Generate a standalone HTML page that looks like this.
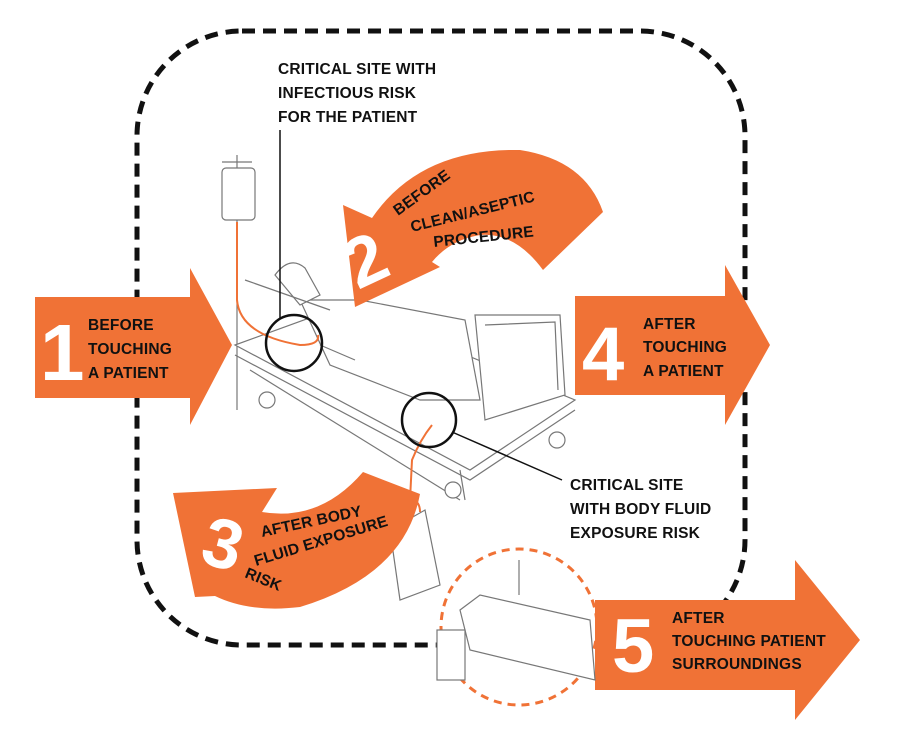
<!DOCTYPE html>
<html><head><meta charset="utf-8"><style>
html,body{margin:0;padding:0;background:#fff;}
svg{display:block;font-family:"Liberation Sans",Arial,sans-serif;}
.t{font-weight:bold;font-size:15.5px;fill:#111;letter-spacing:0.2px;}
.n{font-weight:bold;fill:#fff;}
.g{fill:none;stroke:#777;stroke-width:1.2;}
</style></head><body>
<svg width="904" height="752" viewBox="0 0 904 752" xmlns="http://www.w3.org/2000/svg">
<rect x="137" y="31" width="608" height="614" rx="105" fill="none" stroke="#111" stroke-width="5" stroke-dasharray="13 8"/>

<g class="g">
  <line x1="237" y1="155" x2="237" y2="410"/>
  <line x1="222" y1="162" x2="252" y2="162"/>
  <rect x="222" y="168" width="33" height="52" rx="4" fill="#fff"/>
  <path d="M235 345 L470 470 L575 400 L345 305 Z" fill="#fff"/>
  <path d="M235 355 L470 480 L575 410" />
  <path d="M250 370 L460 500"/>
  <path d="M460 470 L465 500"/>
  <path d="M475 315 L560 315 L565 395 L485 420 Z" fill="#fff"/>
  <path d="M485 325 L555 322 L558 390"/>
  <path d="M300 300 L360 300 L465 320 L480 400 L420 400 L330 365 Z" fill="#fff"/>
  <path d="M275 275 Q290 255 305 268 L320 295 L300 305 Z" fill="#fff"/>
  <path d="M245 280 L330 310"/>
  <path d="M320 345 L355 360"/>
  <circle cx="267" cy="400" r="8" fill="#fff"/>
  <circle cx="453" cy="490" r="8" fill="#fff"/>
  <circle cx="557" cy="440" r="8" fill="#fff"/>
  <path d="M390 530 L425 510 L440 585 L400 600 Z" fill="#fff"/>
</g>
<path d="M237 222 L237 300 Q240 335 300 345 Q320 345 318 335" fill="none" stroke="#f07236" stroke-width="2"/>
<path d="M432 425 Q420 440 412 460 L410 500 Q420 500 420 512" fill="none" stroke="#f07236" stroke-width="2"/>
<circle cx="294" cy="343" r="28" fill="none" stroke="#111" stroke-width="2.5"/>
<circle cx="429" cy="420" r="27" fill="none" stroke="#111" stroke-width="2.5"/>
<line x1="280" y1="130" x2="280" y2="318" stroke="#111" stroke-width="1.5"/>
<line x1="452" y1="432" x2="562" y2="480" stroke="#111" stroke-width="1.5"/>

<text class="t" x="278" y="74">CRITICAL SITE WITH</text>
<text class="t" x="278" y="98">INFECTIOUS RISK</text>
<text class="t" x="278" y="122">FOR THE PATIENT</text>
<text class="t" x="570" y="490">CRITICAL SITE</text>
<text class="t" x="570" y="514">WITH BODY FLUID</text>
<text class="t" x="570" y="538">EXPOSURE RISK</text>

<path d="M35 297 L190 297 L190 268 L232 345 L190 425 L190 398 L35 398 Z" fill="#f07236"/>
<text class="n" x="40" y="380" font-size="80">1</text>
<text class="t" x="88" y="330">BEFORE</text>
<text class="t" x="88" y="354">TOUCHING</text>
<text class="t" x="88" y="378">A PATIENT</text>

<path d="M575 296 L725 296 L725 265 L770 345 L725 425 L725 395 L575 395 Z" fill="#f07236"/>
<text class="n" x="582" y="380" font-size="76">4</text>
<text class="t" x="643" y="329">AFTER</text>
<text class="t" x="643" y="352">TOUCHING</text>
<text class="t" x="643" y="376">A PATIENT</text>

<circle cx="519" cy="627" r="78" fill="#fff" stroke="#f07236" stroke-width="3" stroke-dasharray="8 6"/>
<path d="M595 600 L795 600 L795 560 L860 640 L795 720 L795 690 L595 690 Z" fill="#f07236"/>
<g class="g">
  <path d="M460 610 L480 595 L590 620 L595 680 L470 650 Z" fill="#fff"/>
  <rect x="437" y="630" width="28" height="50" fill="#fff"/>
  <line x1="519" y1="560" x2="519" y2="595"/>
</g>
<text class="n" x="612" y="672" font-size="76">5</text>
<text class="t" x="672" y="623">AFTER</text>
<text class="t" x="672" y="646">TOUCHING PATIENT</text>
<text class="t" x="672" y="669">SURROUNDINGS</text>

<path d="M343 205 L372 218 Q420 148 520 150 Q585 160 603 212 L543 270 Q515 232 480 235 Q450 240 432 262 L440 267 L355 307 Z" fill="#f07236"/>
<text class="n" font-size="70" transform="translate(358 290) rotate(-25)">2</text>
<text class="t" transform="translate(398 216) rotate(-36)">BEFORE</text>
<text class="t" transform="translate(412 232) rotate(-14)">CLEAN/ASEPTIC</text>
<text class="t" transform="translate(434 247) rotate(-6)">PROCEDURE</text>

<path d="M173 493 L277 488 L262 512 Q320 522 363 472 L420 494 Q405 575 300 607 Q250 613 215 596 L195 597 Z" fill="#f07236"/>
<text class="n" font-size="70" transform="translate(198 562) rotate(15)">3</text>
<text class="t" transform="translate(262 537) rotate(-12)">AFTER BODY</text>
<text class="t" transform="translate(256 566) rotate(-17)">FLUID EXPOSURE</text>
<text class="t" transform="translate(244 577) rotate(22)">RISK</text>
</svg>
</body></html>
